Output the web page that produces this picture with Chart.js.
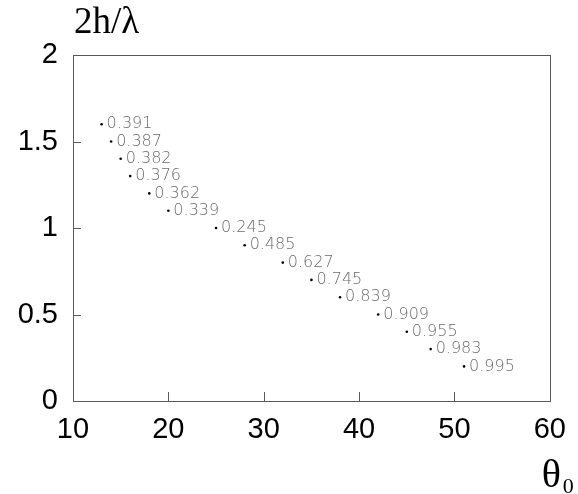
<!DOCTYPE html>
<html>
<head>
<meta charset="utf-8">
<title>2h/λ vs θ0</title>
<script src="https://cdn.jsdelivr.net/npm/chart.js@4"></script>
<style>
  html, body { margin: 0; padding: 0; background: #fff; }
  #wrap { width: 578px; height: 494px; }
</style>
</head>
<body>
<div id="wrap"><canvas id="chart" width="578" height="494"></canvas></div>
<script>
(function() {
    'use strict';

    // incidence angle (deg) and the matching 2h/lambda
    var theta0 = [13, 14, 15, 16, 18, 20, 25, 28, 32, 35, 38, 42, 45, 47.5, 51];
    var ratio = [1.6, 1.5, 1.4, 1.3, 1.2, 1.1, 1.0, 0.9, 0.8, 0.7, 0.6, 0.5, 0.4, 0.3, 0.2];
    // value printed next to each point
    var pointLabels = ['0.391', '0.387', '0.382', '0.376', '0.362', '0.339', '0.245',
        '0.485', '0.627', '0.745', '0.839', '0.909', '0.955', '0.983', '0.995'];

    var xTicks = [10, 20, 30, 40, 50, 60];
    var yTicks = [0, 0.5, 1, 1.5, 2];

    var frameColor = '#5a5a5a';

    // box around the plot with short ticks pointing inwards
    var framePlugin = {
        id: 'frame',
        afterDraw: function(chart) {
            var ctx = chart.ctx;
            var a = chart.chartArea;
            var xs = chart.scales.x;
            var ys = chart.scales.y;
            ctx.save();
            ctx.strokeStyle = frameColor;
            ctx.lineWidth = 1;
            ctx.strokeRect(Math.round(a.left) + 0.5, Math.round(a.top) + 0.5,
                Math.round(a.right - a.left), Math.round(a.bottom - a.top));
            ctx.beginPath();
            xTicks.slice(1, -1).forEach(function(v) {
                var px = Math.round(xs.getPixelForValue(v)) + 0.5;
                ctx.moveTo(px, a.bottom);
                ctx.lineTo(px, a.bottom - 9);
            });
            yTicks.slice(1, -1).forEach(function(v) {
                var py = Math.round(ys.getPixelForValue(v)) + 0.5;
                ctx.moveTo(a.left, py);
                ctx.lineTo(a.left + 8, py);
            });
            ctx.stroke();
            ctx.restore();
        }
    };

    // small value text to the right of every point
    var pointLabelPlugin = {
        id: 'pointLabels',
        afterDatasetsDraw: function(chart) {
            var ctx = chart.ctx;
            var meta = chart.getDatasetMeta(0);
            ctx.save();
            ctx.font = '200 16px "DejaVu Sans"';
            ctx.fillStyle = '#6a6a6a';
            ctx.textAlign = 'left';
            ctx.textBaseline = 'middle';
            meta.data.forEach(function(el, i) {
                ctx.fillText(pointLabels[i], el.x + 5, el.y);
            });
            ctx.restore();
        }
    };

    // axis names: 2h/λ above the y axis, θ0 under the right end of x
    var axisNamePlugin = {
        id: 'axisNames',
        afterDraw: function(chart) {
            var ctx = chart.ctx;
            var a = chart.chartArea;
            ctx.save();
            ctx.fillStyle = '#000';
            ctx.textBaseline = 'alphabetic';
            ctx.textAlign = 'left';
            ctx.font = '37px "Liberation Serif"';
            ctx.fillText('2h/\u03bb', a.left + 1, 33);
            ctx.font = '40px "Liberation Serif"';
            ctx.fillText('\u03b8', a.right - 8, 487);
            ctx.font = '22px "Liberation Serif"';
            ctx.fillText('0', a.right + 13, 493);
            ctx.restore();
        }
    };

    var tickFont = { family: '"Liberation Sans", Arial, sans-serif', size: 29 };

    var ctx = document.getElementById('chart').getContext('2d');
    new Chart(ctx, {
        type: 'scatter',
        data: {
            datasets: [{
                data: theta0.map(function(t, i) { return { x: t, y: ratio[i] }; }),
                backgroundColor: '#000',
                borderWidth: 0,
                pointRadius: 1.3,
                pointHoverRadius: 1.3
            }]
        },
        options: {
            responsive: false,
            animation: false,
            layout: { padding: { top: 55, right: 26, bottom: 0, left: 0 } },
            plugins: {
                legend: { display: false },
                tooltip: { enabled: false }
            },
            scales: {
                x: {
                    type: 'linear',
                    min: 10,
                    max: 60,
                    afterBuildTicks: function(scale) {
                        scale.ticks = xTicks.map(function(v) { return { value: v }; });
                    },
                    afterFit: function(scale) { scale.height = 93; },
                    grid: { display: false, drawTicks: false },
                    border: { display: false },
                    ticks: {
                        color: '#000', font: tickFont, padding: 12, maxRotation: 0,
                        callback: function(v) { return String(v); }
                    }
                },
                y: {
                    type: 'linear',
                    min: 0,
                    max: 2,
                    afterBuildTicks: function(scale) {
                        scale.ticks = yTicks.map(function(v) { return { value: v }; });
                    },
                    afterFit: function(scale) { scale.width = 73; },
                    grid: { display: false, drawTicks: false },
                    border: { display: false },
                    ticks: {
                        color: '#000', font: tickFont, padding: 15,
                        callback: function(v) { return String(v); }
                    }
                }
            }
        },
        plugins: [framePlugin, pointLabelPlugin, axisNamePlugin]
    });
})();
</script>
</body>
</html>
